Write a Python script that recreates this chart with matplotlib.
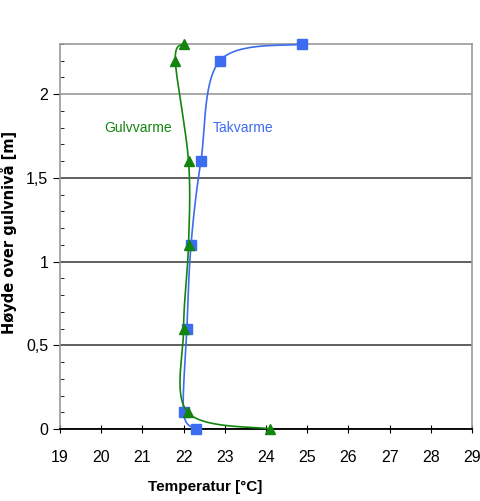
import numpy as np
import matplotlib.pyplot as plt

plt.rcParams['font.family'] = ['Liberation Sans Narrow', 'Liberation Sans', 'DejaVu Sans']

heights = [0, 0.1, 0.6, 1.1, 1.6, 2.2, 2.3]
gulvvarme = [24.1, 22.1, 22.0, 22.12, 22.12, 21.8, 22.0]
takvarme = [22.3, 22.0, 22.08, 22.18, 22.42, 22.88, 24.87]
x_ticks = list(range(19, 30))
y_ticks = [0, 0.5, 1, 1.5, 2]
y_labels = ['0', '0,5', '1', '1,5', '2']

green = '#13850f'
blue = '#3c6cf0'

fig = plt.figure(figsize=(4.81, 5.01), dpi=100)
ax = fig.add_axes([0.1247, 0.1437, 0.8566, 0.7685])
ax.set_xlim(19, 29)
ax.set_ylim(0, 2.3)


def smooth(xs, ys, n=30):
    # excel-like smoothed line (catmull-rom / bezier), done in axes pixel space
    sx, sy = 41.2, 167.5
    p = np.column_stack([np.array(xs) * sx, np.array(ys) * sy])
    out = []
    for i in range(len(p) - 1):
        p0 = p[max(i - 1, 0)]
        p1 = p[i]
        p2 = p[i + 1]
        p3 = p[min(i + 2, len(p) - 1)]
        c1 = p1 + (p2 - p0) / 6
        c2 = p2 - (p3 - p1) / 6
        t = np.linspace(0, 1, n)[:, None]
        seg = ((1 - t) ** 3) * p1 + 3 * ((1 - t) ** 2) * t * c1 + 3 * (1 - t) * t ** 2 * c2 + t ** 3 * p2
        out.append(seg)
    out = np.vstack(out)
    return out[:, 0] / sx, out[:, 1] / sy


gx, gy = smooth(gulvvarme, heights)
tx, ty = smooth(takvarme, heights)
ax.plot(tx, ty, color=blue, lw=1.2, zorder=3, clip_on=False)
ax.plot(takvarme, heights, 's', color=blue, ms=7, zorder=4, clip_on=False)
ax.plot(gx, gy, color=green, lw=1.2, zorder=5, clip_on=False)
ax.plot(gulvvarme, heights, '^', color=green, ms=7, zorder=6, clip_on=False)

ax.text(20.9, 1.8, 'Gulvvarme', color=green, fontsize=10, ha='center', va='center')
ax.text(23.45, 1.8, 'Takvarme', color=blue, fontsize=10, ha='center', va='center')

ax.set_xticks(x_ticks)
ax.set_yticks(y_ticks)
ax.set_yticklabels(y_labels)
ax.set_yticks(np.arange(0, 2.31, 0.1), minor=True)
ax.tick_params(axis='x', direction='inout', length=6, labelsize=11.5, pad=12)
ax.tick_params(axis='y', which='major', direction='out', length=5, labelsize=11.5)
ax.tick_params(axis='y', which='minor', direction='in', length=3)

ax.yaxis.grid(True, color='#444444', lw=1.2)
for gl, v in zip(ax.get_ygridlines(), y_ticks):
    if v == 2:
        gl.set_color('#999999')

for s in ['top', 'right', 'left']:
    ax.spines[s].set_color('#999999')
    ax.spines[s].set_linewidth(1.2)
ax.spines['bottom'].set_color('black')
ax.spines['bottom'].set_linewidth(1.3)

ax.set_xlabel('Temperatur [°C]', fontsize=11, fontweight='bold')
ax.xaxis.set_label_coords(0.352, -0.133)
ax.set_ylabel('Høyde over gulvnivå [m]', fontsize=10.5, fontweight='bold',
              family=['DejaVu Sans'])
ax.yaxis.set_label_coords(-0.105, 0.51)

fig.savefig('out.png', dpi=100)
